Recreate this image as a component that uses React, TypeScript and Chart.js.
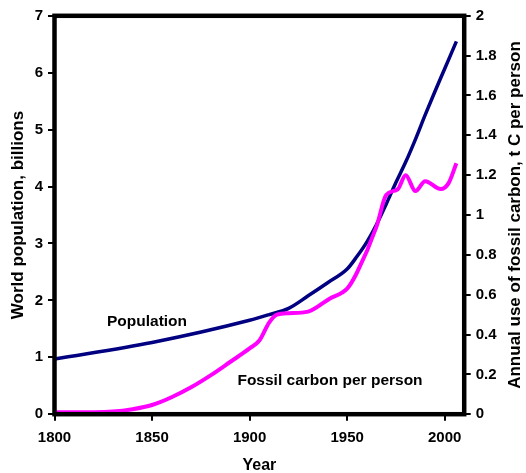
import React, { useEffect, useRef } from "react";
import { Chart, registerables } from "chart.js";

Chart.register(...registerables);

const popYears = [1800, 1850, 1900, 1910, 1920, 1930, 1940, 1950, 1955, 1960, 1965, 1970, 1975, 1980, 1985, 1990, 1995, 2000, 2006];
const popValues = [0.97, 1.26, 1.65, 1.75, 1.86, 2.08, 2.31, 2.55, 2.77, 3.02, 3.33, 3.69, 4.07, 4.43, 4.83, 5.26, 5.67, 6.07, 6.55];

const carbonYears = [1800, 1820, 1830, 1840, 1850, 1860, 1870, 1880, 1890, 1900, 1905, 1910, 1914, 1920, 1930, 1941, 1950, 1955, 1965, 1970, 1976, 1980, 1985, 1990, 1998, 2002, 2006];
const carbonValues = [0.01, 0.01, 0.013, 0.025, 0.046, 0.085, 0.135, 0.195, 0.262, 0.33, 0.37, 0.46, 0.5, 0.507, 0.515, 0.58, 0.63, 0.71, 0.94, 1.1, 1.13, 1.2, 1.12, 1.17, 1.13, 1.16, 1.26];

const xTicks = [1800, 1850, 1900, 1950, 2000];
const leftTicks = [0, 1, 2, 3, 4, 5, 6, 7];
const rightTicks = [0, 0.2, 0.4, 0.6, 0.8, 1, 1.2, 1.4, 1.6, 1.8, 2];

const FONT = "'Liberation Sans', Arial, sans-serif";

export default function App() {
  const ref = useRef<HTMLCanvasElement | null>(null);

  useEffect(() => {
    const canvas = ref.current;
    if (!canvas) return;

    const overlay = {
      id: "overlay",
      afterDraw(chart: any) {
        const { ctx, chartArea } = chart;
        ctx.save();
        ctx.strokeStyle = "#000";
        ctx.lineWidth = 4.5;
        ctx.strokeRect(chartArea.left, chartArea.top, chartArea.right - chartArea.left, chartArea.bottom - chartArea.top);
        ctx.fillStyle = "#000";
        ctx.font = `bold 15.5px ${FONT}`;
        ctx.textAlign = "center";
        ctx.textBaseline = "middle";
        ctx.fillText("Population", 147, 322);
        ctx.fillText("Fossil carbon per person", 330, 381);
        ctx.font = `bold 17px ${FONT}`;
        ctx.translate(515, (chartArea.top + chartArea.bottom) / 2);
        ctx.rotate(-Math.PI / 2);
        ctx.fillText("Annual use of fossil carbon, t C per person", 0, 0);
        ctx.restore();
      },
    };

    const tickFont = { family: FONT, size: 15, weight: "bold" as const };
    const gridOpts = {
      display: true,
      drawOnChartArea: false,
      drawTicks: true,
      tickLength: 6.5,
      color: "#000",
      lineWidth: 2,
    };

    const chart = new Chart(canvas, {
      type: "line",
      data: {
        datasets: [
          {
            label: "Fossil carbon per person",
            data: carbonYears.map((x, i) => ({ x, y: carbonValues[i] })),
            borderColor: "#FF00FF",
            borderWidth: 4,
            pointRadius: 0,
            cubicInterpolationMode: "monotone",
            yAxisID: "y1",
            fill: false,
          },
          {
            label: "Population",
            data: popYears.map((x, i) => ({ x, y: popValues[i] })),
            borderColor: "#000080",
            borderWidth: 3.5,
            pointRadius: 0,
            cubicInterpolationMode: "monotone",
            yAxisID: "y",
            fill: false,
          },
        ],
      },
      options: {
        responsive: false,
        animation: false,
        layout: { padding: { top: 15.8, left: 0, right: 0, bottom: 0 } },
        plugins: { legend: { display: false }, tooltip: { enabled: false }, title: { display: false } },
        scales: {
          x: {
            type: "linear",
            position: "bottom",
            min: 1800,
            max: 2010,
            afterBuildTicks: (s: any) => {
              s.ticks = xTicks.map((v) => ({ value: v }));
            },
            afterFit: (s: any) => {
              s.height = 473 - 414.2;
            },
            ticks: { font: tickFont, color: "#000", padding: 8, maxRotation: 0, callback: (v: any) => String(v) },
            grid: gridOpts,
            border: { display: false },
            title: { display: true, text: "Year", color: "#000", font: { family: FONT, size: 16, weight: "bold" }, padding: { top: 0, bottom: -2 } },
          },
          y: {
            type: "linear",
            position: "left",
            min: 0,
            max: 7,
            afterBuildTicks: (s: any) => {
              s.ticks = leftTicks.map((v) => ({ value: v }));
            },
            afterFit: (s: any) => {
              s.width = 54.5;
            },
            ticks: { font: tickFont, color: "#000", padding: 5, callback: (v: any) => String(v) },
            grid: gridOpts,
            border: { display: false },
            title: { display: true, text: "World population, billions", color: "#000", font: { family: FONT, size: 17, weight: "bold" }, padding: { top: 8.3, bottom: 0 } },
          },
          y1: {
            type: "linear",
            position: "right",
            min: 0,
            max: 2,
            afterBuildTicks: (s: any) => {
              s.ticks = rightTicks.map((v) => ({ value: v }));
            },
            afterFit: (s: any) => {
              s.width = 526 - 464.2;
            },
            ticks: { font: tickFont, color: "#000", padding: 5, callback: (v: any) => String(Math.round(Number(v) * 10) / 10) },
            grid: gridOpts,
            border: { display: false },
          },
        },
      },
      plugins: [overlay],
    });

    return () => chart.destroy();
  }, []);

  return (
    <div style={{ position: "fixed", left: 0, top: 0, width: 526, height: 473, background: "#fff" }}>
      <canvas ref={ref} width={526} height={473} style={{ display: "block" }} />
    </div>
  );
}
